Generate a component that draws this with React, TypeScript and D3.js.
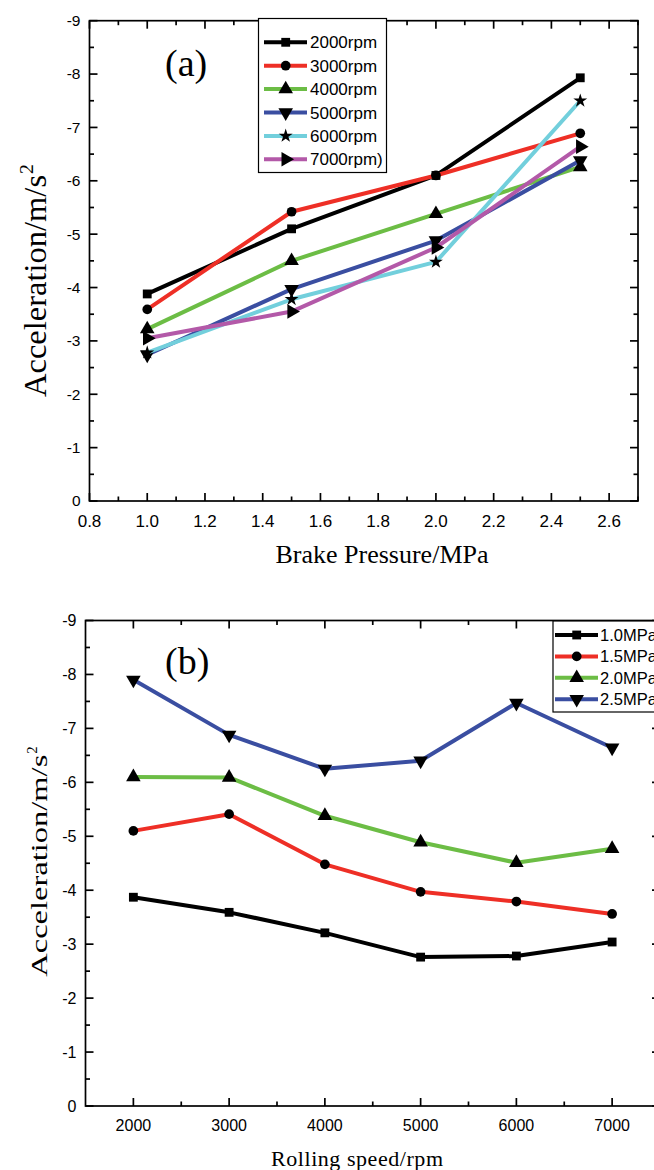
import React from "react";
import * as d3 from "d3";

// ---------- data: chart (a) ----------
const pressures = [1.0, 1.5, 2.0, 2.5];
const rpm2000 = [-3.88, -5.1, -6.1, -7.93];
const rpm3000 = [-3.59, -5.42, -6.1, -6.89];
const rpm4000 = [-3.22, -4.5, -5.38, -6.26];
const rpm5000 = [-2.74, -3.97, -4.88, -6.38];
const rpm6000 = [-2.78, -3.78, -4.48, -7.5];
const rpm7000 = [-3.05, -3.55, -4.75, -6.64];
const seriesANames = ["2000rpm", "3000rpm", "4000rpm", "5000rpm", "6000rpm", "7000rpm)"];
const xTicksA = [0.8, 1.0, 1.2, 1.4, 1.6, 1.8, 2.0, 2.2, 2.4, 2.6];
const yTicks = [0, -1, -2, -3, -4, -5, -6, -7, -8, -9];

// ---------- data: chart (b) ----------
const speeds = [2000, 3000, 4000, 5000, 6000, 7000];
const mpa10 = [-3.87, -3.59, -3.21, -2.76, -2.78, -3.04];
const mpa15 = [-5.1, -5.41, -4.48, -3.97, -3.79, -3.56];
const mpa20 = [-6.1, -6.09, -5.38, -4.89, -4.51, -4.77];
const mpa25 = [-7.9, -6.88, -6.25, -6.4, -7.47, -6.64];
const seriesBNames = ["1.0MPa", "1.5MPa", "2.0MPa", "2.5MPa"];
const xTicksB = [2000, 3000, 4000, 5000, 6000, 7000];

const COLORS = ["#000000", "#ee2f26", "#6cbd45", "#3a4ea1", "#72cfdc", "#b359a8"];
const MARKERS = ["square", "circle", "up", "down", "star", "right"];

function markerPath(kind: string): { d: string; rot: number } {
  switch (kind) {
    case "square":
      return { d: d3.symbol(d3.symbolSquare, 78)() as string, rot: 0 };
    case "circle":
      return { d: d3.symbol(d3.symbolCircle, 74)() as string, rot: 0 };
    case "up":
      return { d: d3.symbol(d3.symbolTriangle, 92)() as string, rot: 0 };
    case "down":
      return { d: d3.symbol(d3.symbolTriangle, 92)() as string, rot: 180 };
    case "right":
      return { d: d3.symbol(d3.symbolTriangle, 92)() as string, rot: 90 };
    default:
      return { d: d3.symbol(d3.symbolStar, 60)() as string, rot: 0 };
  }
}

function Marker({ kind, x, y }: { kind: string; x: number; y: number }) {
  const m = markerPath(kind);
  return <path d={m.d} transform={`translate(${x},${y}) rotate(${m.rot})`} fill="#000" />;
}

const TICK_FONT = "'Liberation Sans', Arial, sans-serif";
const SERIF = "'Liberation Serif', 'Times New Roman', serif";

type PanelProps = {
  x: d3.ScaleLinear<number, number>;
  y: d3.ScaleLinear<number, number>;
  xMajor: number[];
  xMinor: number[];
  xFmt: (v: number) => string;
  xLabelY: number;
  xFont: number;
  yFont: number;
};

function Frame({ x, y, xMajor, xMinor, xFmt, xLabelY, xFont, yFont }: PanelProps) {
  const [x0, x1] = x.range();
  const [y0, y1] = y.range(); // y0 bottom, y1 top
  const yMinor = d3.range(0, 9).map((i) => -(i + 0.5));
  const sw = 1.7;
  const maj = 8;
  const min = 4.5;
  return (
    <g>
      <rect x={x0} y={y1} width={x1 - x0} height={y0 - y1} fill="none" stroke="#000" strokeWidth={sw} />
      {yTicks.map((v) => (
        <g key={"y" + v}>
          <line x1={x0} x2={x0 + maj} y1={y(v)} y2={y(v)} stroke="#000" strokeWidth={sw} />
          <line x1={x1} x2={x1 - maj} y1={y(v)} y2={y(v)} stroke="#000" strokeWidth={sw} />
          <text x={x0 - 9} y={y(v)} dy="0.35em" textAnchor="end" fontFamily={TICK_FONT} fontSize={yFont}>
            {String(v)}
          </text>
        </g>
      ))}
      {yMinor.map((v) => (
        <g key={"ym" + v}>
          <line x1={x0} x2={x0 + min} y1={y(v)} y2={y(v)} stroke="#000" strokeWidth={sw} />
          <line x1={x1} x2={x1 - min} y1={y(v)} y2={y(v)} stroke="#000" strokeWidth={sw} />
        </g>
      ))}
      {xMajor.map((v) => (
        <g key={"x" + v}>
          <line x1={x(v)} x2={x(v)} y1={y0} y2={y0 - maj} stroke="#000" strokeWidth={sw} />
          <line x1={x(v)} x2={x(v)} y1={y1} y2={y1 + maj} stroke="#000" strokeWidth={sw} />
          <text x={x(v)} y={xLabelY} textAnchor="middle" fontFamily={TICK_FONT} fontSize={xFont}>
            {xFmt(v)}
          </text>
        </g>
      ))}
      {xMinor.map((v) => (
        <g key={"xm" + v}>
          <line x1={x(v)} x2={x(v)} y1={y0} y2={y0 - min} stroke="#000" strokeWidth={sw} />
          <line x1={x(v)} x2={x(v)} y1={y1} y2={y1 + min} stroke="#000" strokeWidth={sw} />
        </g>
      ))}
    </g>
  );
}

function Series({ xs, ys, x, y, color, marker }: any) {
  const line = d3
    .line<number>()
    .x((_, i) => x(xs[i]))
    .y((d) => y(d));
  return (
    <g>
      <path d={line(ys) as string} fill="none" stroke={color} strokeWidth={4} strokeLinejoin="round" />
      {ys.map((v: number, i: number) => (
        <Marker key={i} kind={marker} x={x(xs[i])} y={y(v)} />
      ))}
    </g>
  );
}

function YTitle({ cx, cy, fontSize, len, family }: any) {
  const supSize = fontSize * 0.62;
  const supW = supSize * 0.5;
  const start = -(len + supW) / 2;
  return (
    <g transform={`translate(${cx},${cy}) rotate(-90)`}>
      <text x={start} y={0} fontFamily={family} fontSize={fontSize} textLength={len} lengthAdjust="spacingAndGlyphs">
        Acceleration/m/s
      </text>
      <text x={start + len + 1} y={-fontSize * 0.42} fontFamily={family} fontSize={supSize}>
        2
      </text>
    </g>
  );
}

export default function App() {
  // ----- panel (a) -----
  const xa = d3.scaleLinear().domain([0.8, 2.7]).range([89.5, 638]);
  const ya = d3.scaleLinear().domain([0, -9]).range([501, 20.7]);
  const seriesA = [rpm2000, rpm3000, rpm4000, rpm5000, rpm6000, rpm7000];
  const xMinorA = d3.range(0, 10).map((i) => +(0.9 + i * 0.2).toFixed(1));

  // ----- panel (b) -----
  const xb = d3.scaleLinear().domain([1500, 7500]).range([85.5, 660]);
  const yb = d3.scaleLinear().domain([0, -9]).range([1106, 620.5]);
  const seriesB = [mpa10, mpa15, mpa20, mpa25];
  const xMinorB = [2500, 3500, 4500, 5500, 6500, 7500];

  const legA = { x0: 258.5, y0: 18.5, w: 128, h: 154, row0: 42.3, dy: 23.4 };
  const legB = { x0: 553, y0: 621, w: 120, h: 91, row0: 635, dy: 21.4 };

  return (
    <svg
      width={654}
      height={1170}
      style={{ position: "absolute", left: 0, top: 0, background: "#fff" }}
      xmlns="http://www.w3.org/2000/svg"
    >
      <rect width={654} height={1170} fill="#fff" />

      {/* ================= (a) ================= */}
      <Frame
        x={xa}
        y={ya}
        xMajor={xTicksA}
        xMinor={xMinorA}
        xFmt={(v) => v.toFixed(1)}
        xLabelY={527}
        xFont={17}
        yFont={15.5}
      />
      {seriesA.map((s, i) => (
        <Series key={i} xs={pressures} ys={s} x={xa} y={ya} color={COLORS[i]} marker={MARKERS[i]} />
      ))}
      <text x={165} y={76} fontFamily={SERIF} fontSize={38}>
        (a)
      </text>
      <rect x={legA.x0} y={legA.y0} width={legA.w} height={legA.h} fill="#fff" stroke="#000" strokeWidth={1.2} />
      {seriesANames.map((n, i) => {
        const yy = legA.row0 + i * legA.dy;
        return (
          <g key={n}>
            <line x1={264} x2={307} y1={yy} y2={yy} stroke={COLORS[i]} strokeWidth={4} />
            <Marker kind={MARKERS[i]} x={285.7} y={yy} />
            <text x={310} y={yy} dy="0.36em" fontFamily={TICK_FONT} fontSize={17}>
              {n}
            </text>
          </g>
        );
      })}
      <text x={382} y={563} textAnchor="middle" fontFamily={SERIF} fontSize={26}>
        Brake Pressure/MPa
      </text>
      <YTitle cx={46} cy={281} fontSize={32} len={222} family={SERIF} />

      {/* ================= (b) ================= */}
      <Frame
        x={xb}
        y={yb}
        xMajor={xTicksB}
        xMinor={xMinorB}
        xFmt={(v) => String(v)}
        xLabelY={1131}
        xFont={16}
        yFont={16}
      />
      {seriesB.map((s, i) => (
        <Series key={i} xs={speeds} ys={s} x={xb} y={yb} color={COLORS[i]} marker={MARKERS[i]} />
      ))}
      <text x={165} y={674} fontFamily={SERIF} fontSize={38}>
        (b)
      </text>
      <rect x={legB.x0} y={legB.y0} width={legB.w} height={legB.h} fill="#fff" stroke="#000" strokeWidth={1.2} />
      {seriesBNames.map((n, i) => {
        const yy = legB.row0 + i * legB.dy;
        return (
          <g key={n}>
            <line x1={555} x2={598} y1={yy} y2={yy} stroke={COLORS[i]} strokeWidth={4} />
            <Marker kind={MARKERS[i]} x={576.7} y={yy} />
            <text x={600} y={yy} dy="0.36em" fontFamily={TICK_FONT} fontSize={16.5}>
              {n}
            </text>
          </g>
        );
      })}
      <text x={271} y={1166} fontFamily={SERIF} fontSize={22} textLength={172} lengthAdjust="spacing">
        Rolling speed/rpm
      </text>
      <YTitle cx={47} cy={862} fontSize={24} len={222} family={SERIF} />
    </svg>
  );
}
